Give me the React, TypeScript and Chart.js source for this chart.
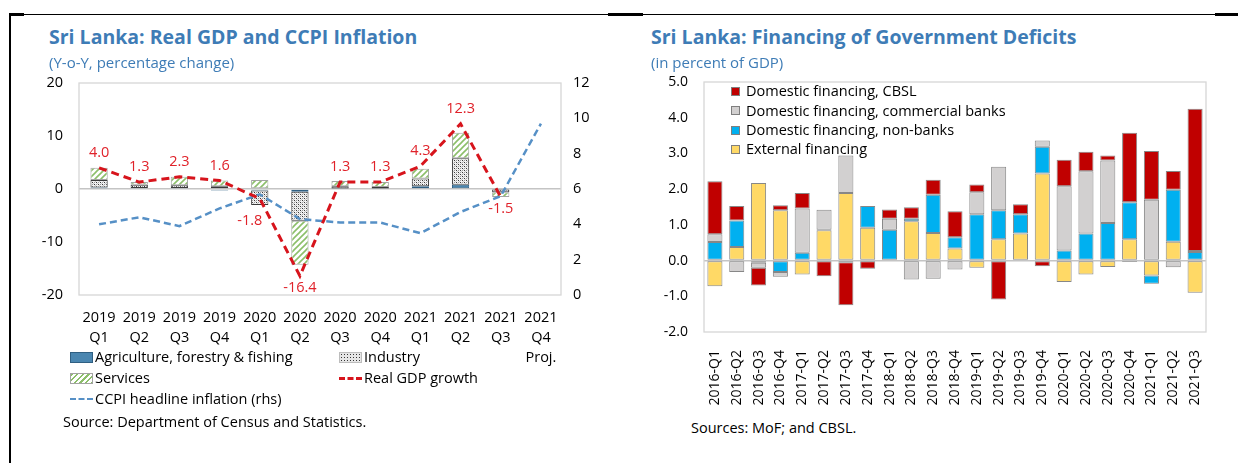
import React, { useEffect, useRef } from "react";
import { Chart, registerables } from "chart.js";

Chart.register(...registerables);

// ---------- Left chart data: Real GDP and CCPI inflation ----------
const gdpQuarters: string[][] = [
  ["2019", "Q1"], ["2019", "Q2"], ["2019", "Q3"], ["2019", "Q4"],
  ["2020", "Q1"], ["2020", "Q2"], ["2020", "Q3"], ["2020", "Q4"],
  ["2021", "Q1"], ["2021", "Q2"], ["2021", "Q3"], ["2021", "Q4", "Proj."],
];
const agriculture = [0.3, 0.2, 0.2, -0.3, -0.3, -0.5, 0.1, 0.1, 0.5, 0.8, -0.1, null];
const industry = [1.4, 0.6, 0.5, 0.5, -2.7, -5.5, 0.4, 0.3, 1.5, 5.0, -0.5, null];
const services = [2.3, 0.5, 1.6, 1.1, 1.7, -8.3, 1.0, 0.9, 1.8, 4.8, -0.9, null];
const realGdpGrowth = [4.0, 1.3, 2.3, 1.6, -1.8, -16.4, 1.3, 1.3, 4.3, 12.3, -1.5, null];
const ccpiInflation = [4.0, 4.4, 3.9, 4.9, 5.7, 4.3, 4.1, 4.1, 3.5, 4.7, 5.6, 9.7];
const gdpAxisTicks = { min: -20, max: 20, step: 10 };
const ccpiAxisTicks = { min: 0, max: 12, step: 2 };

// ---------- Right chart data: Financing of government deficits ----------
const financingQuarters = [
  "2016-Q1", "2016-Q2", "2016-Q3", "2016-Q4",
  "2017-Q1", "2017-Q2", "2017-Q3", "2017-Q4",
  "2018-Q1", "2018-Q2", "2018-Q3", "2018-Q4",
  "2019-Q1", "2019-Q2", "2019-Q3", "2019-Q4",
  "2020-Q1", "2020-Q2", "2020-Q3", "2020-Q4",
  "2021-Q1", "2021-Q2", "2021-Q3",
];
const externalFinancing = [-0.72, 0.38, 2.17, 1.41, -0.39, 0.85, 1.89, 0.92, 0, 1.10, 0.77, 0.34, -0.20, 0.60, 0.76, 2.44, -0.60, -0.39, -0.18, 0.60, -0.42, 0.53, -0.90];
const nonBanks = [0.52, 0.74, -0.06, -0.32, 0.22, 0.01, -0.05, 0.61, 0.86, 0.07, 1.07, 0.31, 1.30, 0.81, 0.54, 0.75, 0.28, 0.76, 1.05, 1.03, -0.23, 1.45, 0.24];
const commercialBanks = [0.22, -0.32, -0.14, -0.13, 1.24, 0.56, 1.05, 0, 0.31, -0.53, -0.51, -0.25, 0.61, 1.22, 0, 0.17, 1.80, 1.74, 1.75, -0.04, 1.70, -0.19, 0.03];
const cbslFinancing = [1.48, 0.41, -0.50, 0.14, 0.43, -0.44, -1.20, -0.23, 0.26, 0.32, 0.42, 0.73, 0.22, -1.09, 0.28, -0.16, 0.74, 0.55, 0.14, 1.95, 1.37, 0.53, 3.98];
const financingAxisTicks = { min: -2, max: 5, step: 1 };

// ---------- Styles ----------
const FONT = "'Open Sans', 'Noto Sans', sans-serif";
const TITLE_BLUE = "#3e7cb6";
const GDP_RED = "#d7141c";
const LABEL_RED = "#e0222a";
const CCPI_BLUE = "#5690c6";
const AG_BLUE = "#4a86b0";
const C_CBSL = "#c00000";
const C_COMM = "#d2d0d0";
const C_NONBANK = "#00b0f0";
const C_EXT = "#ffd966";

const framePlugin = {
  id: "frame",
  beforeDatasetsDraw(chart: any) {
    const { ctx, chartArea: a } = chart;
    ctx.save();
    ctx.strokeStyle = "#d6d6d6";
    ctx.lineWidth = 1.3;
    ctx.strokeRect(a.left, a.top, a.right - a.left, a.bottom - a.top);
    ctx.restore();
  },
};

const gdpLabelPlugin = {
  id: "gdpLabels",
  afterDatasetsDraw(chart: any) {
    const meta = chart.getDatasetMeta(0);
    const values = chart.data.datasets[0].data as (number | null)[];
    const { ctx } = chart;
    ctx.save();
    ctx.font = `14.5px ${FONT}`;
    ctx.fillStyle = LABEL_RED;
    ctx.textAlign = "center";
    ctx.textBaseline = "middle";
    values.forEach((v, i) => {
      if (v === null || v === undefined) return;
      const pt = meta.data[i];
      let x = pt.x;
      let y = pt.y;
      if (v >= 0) {
        y -= 15;
      } else {
        const next = values[i + 1];
        if (next !== null && next !== undefined && next < v - 5) {
          x -= 10;
          y += 22;
        } else {
          y += 12;
        }
      }
      ctx.fillText(v.toFixed(1), x, y);
    });
    ctx.restore();
  },
};

function zeroLineColor(c: any) {
  return c.tick && c.tick.value === 0 ? "#c4c4c4" : "rgba(0,0,0,0)";
}

// fix the axis width/height and stop tick-label overflow from moving the plot area
const fixVertical = (w: number) => (s: any) => {
  s.width = w;
  s.paddingTop = 0;
  s.paddingBottom = 0;
};
const fixHorizontal = (h: number) => (s: any) => {
  s.height = h;
};

function makeIndustryPattern(ctx: CanvasRenderingContext2D) {
  const t = document.createElement("canvas");
  t.width = 4;
  t.height = 4;
  const g = t.getContext("2d")!;
  g.fillStyle = "#f2f2f2";
  g.fillRect(0, 0, 4, 4);
  g.fillStyle = "#3a3a3a";
  g.fillRect(0, 0, 1, 1);
  g.fillRect(2, 2, 1, 1);
  g.fillStyle = "#9a9a9a";
  g.fillRect(2, 0, 1, 1);
  g.fillRect(0, 2, 1, 1);
  g.fillStyle = "#c8c8c8";
  g.fillRect(1, 1, 1, 1);
  g.fillRect(3, 3, 1, 1);
  return ctx.createPattern(t, "repeat")!;
}

function makeServicesPattern(ctx: CanvasRenderingContext2D) {
  const t = document.createElement("canvas");
  t.width = 6;
  t.height = 6;
  const g = t.getContext("2d")!;
  g.fillStyle = "#ffffff";
  g.fillRect(0, 0, 6, 6);
  g.strokeStyle = "#8cbf6a";
  g.lineWidth = 1.6;
  g.beginPath();
  g.moveTo(-1, 7);
  g.lineTo(7, -1);
  g.moveTo(-1, 1);
  g.lineTo(1, -1);
  g.moveTo(5, 7);
  g.lineTo(7, 5);
  g.stroke();
  return ctx.createPattern(t, "repeat")!;
}

const tickFont = { family: FONT, size: 14 };

function GdpChart() {
  const ref = useRef<HTMLCanvasElement | null>(null);
  useEffect(() => {
    const canvas = ref.current!;
    const ctx = canvas.getContext("2d")!;
    const barCommon = {
      type: "bar",
      yAxisID: "y",
      stack: "sectors",
      borderWidth: 1,
      borderSkipped: false,
      barPercentage: 0.43,
      categoryPercentage: 1,
    };
    const chart = new Chart(canvas, {
      type: "bar",
      data: {
        labels: gdpQuarters as any,
        datasets: [
          {
            type: "line",
            label: "Real GDP growth",
            data: realGdpGrowth,
            yAxisID: "y",
            stack: "gdp",
            borderColor: GDP_RED,
            borderWidth: 3,
            borderDash: [8, 5],
            pointRadius: 0,
            tension: 0,
            fill: false,
          } as any,
          {
            type: "line",
            label: "CCPI headline inflation (rhs)",
            data: ccpiInflation,
            yAxisID: "y2",
            borderColor: CCPI_BLUE,
            borderWidth: 2.5,
            borderDash: [7, 4],
            pointRadius: 0,
            tension: 0,
            fill: false,
          } as any,
          {
            ...barCommon,
            label: "Agriculture, forestry & fishing",
            data: agriculture,
            backgroundColor: AG_BLUE,
            borderColor: "#2f5f82",
          } as any,
          {
            ...barCommon,
            label: "Industry",
            data: industry,
            backgroundColor: makeIndustryPattern(ctx),
            borderColor: "#3a3a3a",
          } as any,
          {
            ...barCommon,
            label: "Services",
            data: services,
            backgroundColor: makeServicesPattern(ctx),
            borderColor: "#a3a3a3",
          } as any,
        ],
      },
      options: {
        responsive: false,
        animation: false,
        layout: { padding: { top: 13, left: 0, right: 0, bottom: 0 } },
        plugins: { legend: { display: false }, tooltip: { enabled: false } },
        scales: {
          x: {
            stacked: true,
            grid: { display: false, drawTicks: false },
            border: { display: false },
            ticks: {
              font: { family: FONT, size: 14.5, lineHeight: 20 / 14.5 },
              color: "#000",
              padding: 13,
              maxRotation: 0,
              autoSkip: false,
            },
            afterFit: fixHorizontal(75),
          },
          y: {
            position: "left",
            stacked: true,
            min: gdpAxisTicks.min,
            max: gdpAxisTicks.max,
            ticks: { stepSize: gdpAxisTicks.step, padding: 16, font: { family: FONT, size: 14.5 }, color: "#000" },
            grid: { color: zeroLineColor, drawTicks: false, lineWidth: 1.5 },
            border: { display: false },
            afterFit: fixVertical(79),
          },
          y2: {
            position: "right",
            min: ccpiAxisTicks.min,
            max: ccpiAxisTicks.max,
            ticks: { stepSize: ccpiAxisTicks.step, padding: 12, font: { family: FONT, size: 14.5 }, color: "#000" },
            grid: { display: false, drawTicks: false },
            border: { display: false },
            afterFit: fixVertical(59),
          },
        },
      } as any,
      plugins: [framePlugin, gdpLabelPlugin],
    });
    return () => chart.destroy();
  }, []);
  return (
    <canvas
      ref={ref}
      width={620}
      height={300}
      style={{ position: "absolute", left: 0, top: 70, width: 620, height: 300 }}
    />
  );
}

function FinancingChart() {
  const ref = useRef<HTMLCanvasElement | null>(null);
  useEffect(() => {
    const canvas = ref.current!;
    const mk = (label: string, data: number[], color: string) => ({
      label,
      data,
      backgroundColor: color,
      borderColor: "rgba(95,95,95,0.75)",
      borderWidth: 1,
      borderSkipped: false,
      barPercentage: 0.69,
      categoryPercentage: 1,
    });
    const chart = new Chart(canvas, {
      type: "bar",
      data: {
        labels: financingQuarters,
        datasets: [
          mk("External financing", externalFinancing, C_EXT),
          mk("Domestic financing, non-banks", nonBanks, C_NONBANK),
          mk("Domestic financing, commercial banks", commercialBanks, C_COMM),
          mk("Domestic financing, CBSL", cbslFinancing, C_CBSL),
        ] as any,
      },
      options: {
        responsive: false,
        animation: false,
        layout: { padding: { top: 12, left: 0, right: 32, bottom: 0 } },
        plugins: { legend: { display: false }, tooltip: { enabled: false } },
        scales: {
          x: {
            stacked: true,
            grid: { display: false, drawTicks: false },
            border: { display: false },
            ticks: {
              font: tickFont,
              color: "#000",
              padding: 18,
              minRotation: 90,
              maxRotation: 90,
              autoSkip: false,
            },
            afterFit: fixHorizontal(83),
          },
          y: {
            stacked: true,
            min: financingAxisTicks.min,
            max: financingAxisTicks.max,
            ticks: {
              stepSize: financingAxisTicks.step,
              padding: 16,
              font: tickFont,
              color: "#000",
              callback: (v: any) => Number(v).toFixed(1),
            },
            grid: { color: zeroLineColor, drawTicks: false, lineWidth: 1.5 },
            border: { display: false },
            afterFit: fixVertical(84),
          },
        },
      } as any,
      plugins: [framePlugin],
    });
    return () => chart.destroy();
  }, []);
  return (
    <canvas
      ref={ref}
      width={618}
      height={345}
      style={{ position: "absolute", left: 620, top: 70, width: 618, height: 345 }}
    />
  );
}

const txt = (size: number, color = "#000", weight = 400): React.CSSProperties => ({
  position: "absolute",
  fontFamily: FONT,
  fontSize: size,
  fontWeight: weight,
  color,
  lineHeight: "20px",
  whiteSpace: "nowrap",
});

function LegendRow(props: { x: number; cy: number; swatch: React.ReactNode; label: string }) {
  return (
    <div style={{ ...txt(14.5), left: props.x, top: props.cy - 10, display: "flex", alignItems: "center" }}>
      {props.swatch}
      <span style={{ marginLeft: 2 }}>{props.label}</span>
    </div>
  );
}

const boxSwatch = (bg: string, border: string): React.ReactNode => (
  <span style={{ display: "inline-block", width: 21, height: 9, background: bg, border: `1px solid ${border}` }} />
);

const lineSwatch = (color: string, w: number): React.ReactNode => (
  <span style={{ display: "inline-block", width: 23, height: 0, borderTop: `${w}px dashed ${color}` }} />
);

const squareSwatch = (bg: string): React.ReactNode => (
  <span style={{ display: "inline-block", width: 7, height: 7, background: bg, border: "1px solid #7f7f7f", marginRight: 4 }} />
);

export default function App() {
  const stipple =
    "radial-gradient(circle, #333 0.7px, transparent 0.9px) 0 0 / 3px 3px, #e6e6e6";
  const hatch = "repeating-linear-gradient(135deg, #8cbf6a 0 1.5px, #ffffff 1.5px 4px)";
  return (
    <div
      style={{
        position: "fixed",
        left: 0,
        top: 0,
        width: 1238,
        height: 463,
        background: "#fff",
        overflow: "hidden",
      }}
    >
      {/* frame lines */}
      <div style={{ position: "absolute", left: 9, top: 13.5, width: 1229, height: 1.5, background: "#000" }} />
      <div style={{ position: "absolute", left: 9, top: 13, width: 15, height: 3, background: "#000" }} />
      <div style={{ position: "absolute", left: 608, top: 13, width: 35, height: 3, background: "#000" }} />
      <div style={{ position: "absolute", left: 1215, top: 13, width: 23, height: 3, background: "#000" }} />
      <div style={{ position: "absolute", left: 9, top: 13, width: 2, height: 450, background: "#000" }} />

      <GdpChart />
      <FinancingChart />

      {/* Left chart texts */}
      <div style={{ ...txt(19.5, TITLE_BLUE, 700), left: 49, top: 26.5 }}>Sri Lanka: Real GDP and CCPI Inflation</div>
      <div style={{ ...txt(15, TITLE_BLUE), left: 49, top: 51.5 }}>(Y-o-Y, percentage change)</div>
      <LegendRow x={70} cy={357} swatch={boxSwatch(AG_BLUE, "#2f5f82")} label="Agriculture, forestry & fishing" />
      <LegendRow x={339} cy={357} swatch={boxSwatch("", "#bdbdbd")} label="Industry" />
      <LegendRow x={70} cy={378} swatch={boxSwatch("", "#a3a3a3")} label="Services" />
      <LegendRow x={339} cy={378} swatch={lineSwatch(GDP_RED, 3)} label="Real GDP growth" />
      <LegendRow x={70} cy={399} swatch={lineSwatch(CCPI_BLUE, 2.5)} label="CCPI headline inflation (rhs)" />
      <div style={{ ...txt(14.5), left: 63, top: 411.5 }}>Source: Department of Census and Statistics.</div>

      {/* pattern swatch overlays for legend */}
      <span style={{ position: "absolute", left: 340, top: 352.5, width: 21, height: 9, background: stipple }} />
      <span style={{ position: "absolute", left: 71, top: 373.5, width: 21, height: 9, background: hatch }} />

      {/* Right chart texts */}
      <div style={{ ...txt(19.5, TITLE_BLUE, 700), left: 651, top: 26.5 }}>Sri Lanka: Financing of Government Deficits</div>
      <div style={{ ...txt(15, TITLE_BLUE), left: 651, top: 51.5 }}>(in percent of GDP)</div>
      <LegendRow x={731} cy={91} swatch={squareSwatch(C_CBSL)} label="Domestic financing, CBSL" />
      <LegendRow x={731} cy={110.5} swatch={squareSwatch(C_COMM)} label="Domestic financing, commercial banks" />
      <LegendRow x={731} cy={130} swatch={squareSwatch(C_NONBANK)} label="Domestic financing, non-banks" />
      <LegendRow x={731} cy={149} swatch={squareSwatch(C_EXT)} label="External financing" />
      <div style={{ ...txt(14.5), left: 691, top: 418 }}>Sources: MoF; and CBSL.</div>
    </div>
  );
}
